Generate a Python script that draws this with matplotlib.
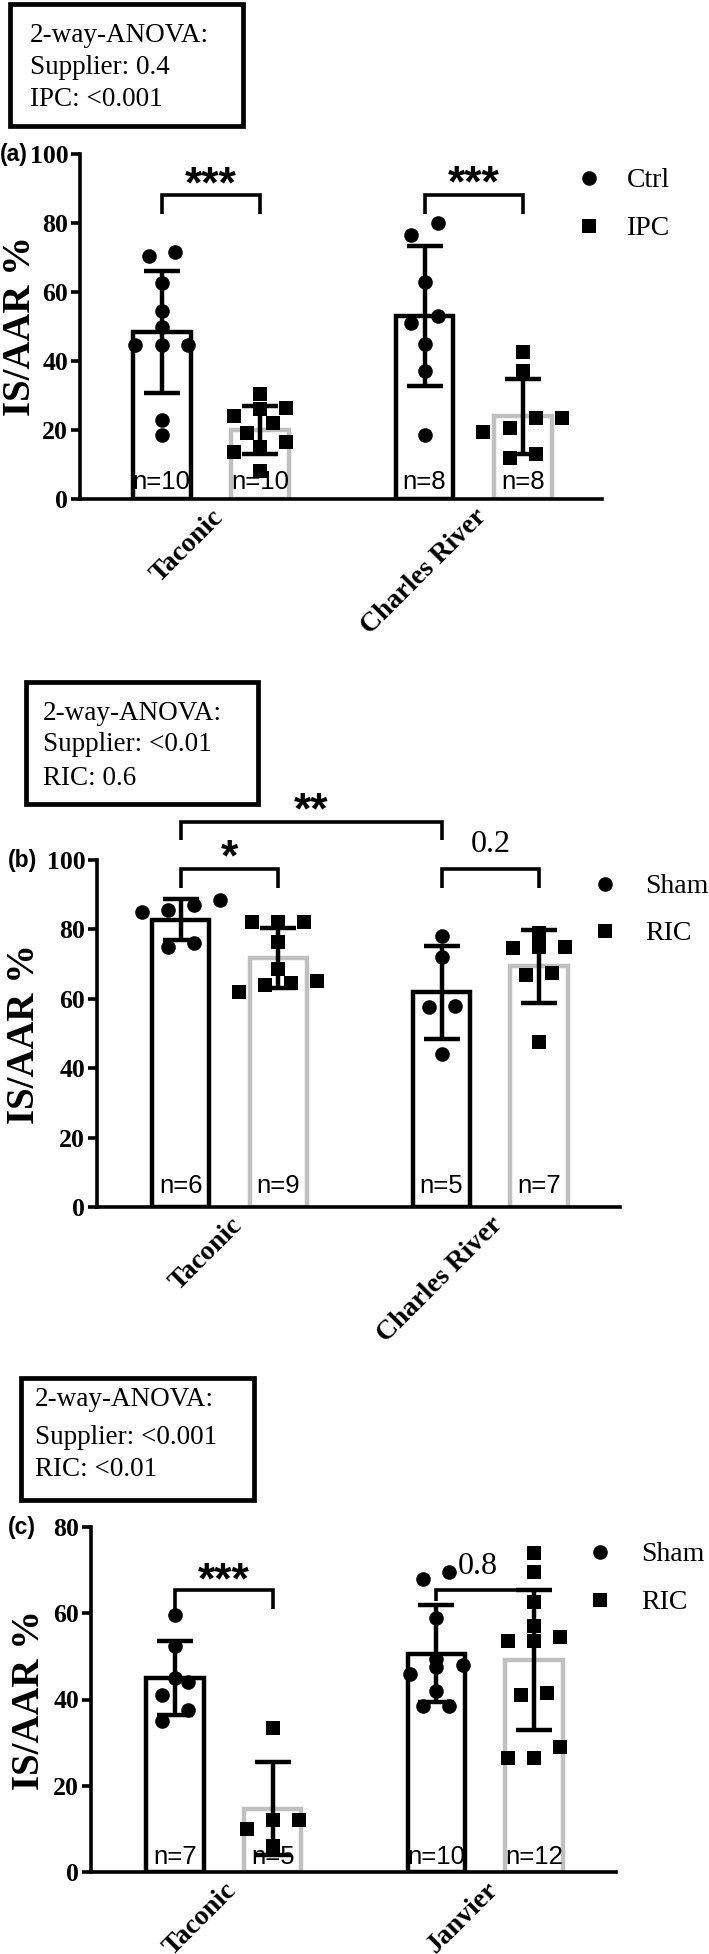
import numpy as np
import matplotlib.pyplot as plt
from matplotlib.lines import Line2D
from matplotlib.patches import Rectangle

W, H = 709, 1954
SERIF = 'Liberation Serif'
SANS = 'Liberation Sans'
GRAY = '#c0c0c0'

# panel (a)
a_groups = ['Taconic', 'Charles River']
a_series = ['Ctrl', 'IPC']
a_taconic_ctrl = [71.5, 70.5, 62.5, 54.5, 50, 44.5, 44.5, 44.5, 23, 18.5]
a_taconic_ipc = [30.5, 26.5, 26, 24, 22, 19, 16.5, 15, 13.5, 8]
a_charles_ctrl = [80, 76.5, 63, 53, 51, 45, 37, 18.5]
a_charles_ipc = [42.5, 37, 23.5, 23.5, 20.5, 19.5, 13, 12]
a_anova = ['2-way-ANOVA:', 'Supplier: 0.4', 'IPC: <0.001']
a_sig = ['***', '***']

# panel (b)
b_groups = ['Taconic', 'Charles River']
b_series = ['Sham', 'RIC']
b_taconic_sham = [88.5, 87, 85.5, 85, 76, 75]
b_taconic_ric = [82, 82, 82, 76.5, 68.5, 65, 64.5, 64, 62]
b_charles_sham = [78, 72, 58, 57.5, 44]
b_charles_ric = [79, 75, 75, 74.5, 67.5, 67, 47.5]
b_anova = ['2-way-ANOVA:', 'Supplier: <0.01', 'RIC: 0.6']
b_sig = ['*', '0.2']
b_sig_supplier = '**'

# panel (c)
c_groups = ['Taconic', 'Janvier']
c_series = ['Sham', 'RIC']
c_taconic_sham = [59.5, 52.5, 45, 44, 41, 37.5, 35]
c_taconic_ric = [33.5, 12, 12, 10, 6]
c_janvier_sham = [69.5, 68, 59, 49.5, 48, 47.5, 46, 42, 38.5, 38.5]
c_janvier_ric = [74, 69.5, 62.5, 57, 54.5, 53.5, 53.5, 41.5, 41, 29, 26.5, 26.5]
c_anova = ['2-way-ANOVA:', 'Supplier: <0.001', 'RIC: <0.01']
c_sig = ['***', '0.8']

OFF = 0.187   # bar offset from group centre
BW = 0.22     # bar width
MS = 10.5
LW = 3.2

fig = plt.figure(figsize=(W / 100, H / 100), dpi=100)


def make_axes(left, top, right, bottom):
    return fig.add_axes([left / W, 1 - bottom / H, (right - left) / W, (bottom - top) / H])


def row_offsets(vals, thr, step=0.1):
    # simple column scatter: values closer than thr share a row
    order = np.argsort(vals, kind='stable')
    offs = np.zeros(len(vals))
    i = 0
    while i < len(order):
        j = i
        while j + 1 < len(order) and vals[order[j + 1]] - vals[order[i]] < thr:
            j += 1
        n = j - i + 1
        for k in range(n):
            offs[order[i + k]] = (k - (n - 1) / 2) * step
        i = j + 1
    return offs


def put(ax, x, y, s, family, weight, size, center_frac):
    fs_px = size * 100 / 72
    ax.annotate(s, xy=(x, y), xytext=(0, -center_frac * fs_px), textcoords='offset pixels',
                ha='center', va='baseline', fontfamily=family, fontweight=weight,
                fontsize=size, annotation_clip=False, zorder=6)


def bracket(ax, x1, x2, y, d1, d2):
    ax.plot([x1, x1, x2, x2], [y - d1, y, y, y - d2], color='k', lw=2.6, clip_on=False,
            solid_joinstyle='miter', solid_capstyle='butt', zorder=5)


def draw_panel(ax, groups, data, ymax, xlim, n_px):
    ax.set_xlim(xlim)
    ax.set_ylim(0, ymax)
    ppy = ax.get_position().height * H / ymax
    thr = 14 / ppy
    markers = ['o', 's']
    edges = ['black', GRAY]
    for gi, pair in enumerate(data):
        for si, vals in enumerate(pair):
            vals = np.asarray(vals, float)
            xc = gi + (2 * si - 1) * OFF
            m = vals.mean()
            sd = vals.std(ddof=1)
            ax.bar(xc, m, width=BW, facecolor='white', edgecolor=edges[si], linewidth=LW, zorder=1)
            ax.plot(xc + row_offsets(vals, thr), vals, ls='none', marker=markers[si], ms=MS,
                    mfc='k', mec='k', mew=0, zorder=3, clip_on=False)
            ax.errorbar(xc, m, yerr=sd, fmt='none', ecolor='k', elinewidth=LW,
                        capsize=13, capthick=LW, zorder=4)
            ax.annotate(f'n={len(vals)}', xy=(xc, 0), xycoords=('data', 'axes fraction'),
                        xytext=(0, n_px - 9), textcoords='offset pixels', ha='center',
                        va='baseline', fontfamily=SANS, fontsize=18.5, zorder=5)
    for s in ['top', 'right']:
        ax.spines[s].set_visible(False)
    for s in ['left', 'bottom']:
        ax.spines[s].set_linewidth(2.6)
    ax.tick_params(axis='y', direction='out', length=6.5, width=2.6, pad=2)
    ax.tick_params(axis='x', length=0, pad=4)
    ax.set_xticks([0, 1], groups, rotation=45, ha='right', rotation_mode='anchor',
                  fontfamily=SERIF, fontweight='bold', fontsize=20)
    ticks = np.arange(0, ymax + 1, 20)
    ax.set_yticks(ticks, [str(int(t)) for t in ticks], fontfamily=SERIF,
                  fontweight='bold', fontsize=18.5)


def anova_box(x0, y0, x1, y1, lines, tx, baselines):
    fig.add_artist(Rectangle((x0 / W, 1 - y1 / H), (x1 - x0) / W, (y1 - y0) / H,
                             transform=fig.transFigure, fill=False, lw=3.4, ec='k'))
    for s, b in zip(lines, baselines):
        fig.text(tx / W, 1 - b / H, s, ha='left', va='baseline', fontfamily=SERIF, fontsize=19.5)


def legend(mx, ys, tx, labels):
    for mk, y, lab in zip(['o', 's'], ys, labels):
        fig.add_artist(Line2D([mx / W], [1 - y / H], transform=fig.transFigure, marker=mk,
                              ms=MS, color='k', ls='none', mew=0))
        fig.text(tx / W, 1 - (y + 0.331 * 27.8) / H, lab, ha='left', va='baseline',
                 fontfamily=SERIF, fontsize=20)


def side_labels(tag, tag_x, tick_y, ylab_x, ylab_y):
    fig.text(tag_x / W, 1 - (tick_y + 7) / H, tag, ha='left', va='baseline',
             fontfamily=SANS, fontweight='bold', fontsize=16.5)
    fig.text(ylab_x / W, 1 - ylab_y / H, 'IS/AAR %', rotation=90, ha='center', va='center',
             fontfamily=SERIF, fontweight='bold', fontsize=28)


# ---------------- (a)
ax = make_axes(80, 154, 602, 499)
draw_panel(ax, a_groups, [[a_taconic_ctrl, a_taconic_ipc], [a_charles_ctrl, a_charles_ipc]],
           100, (-0.498, 1.488), 19)
bracket(ax, -OFF, OFF, 88, 5.5, 5.5)
bracket(ax, 1 - OFF, 1 + OFF, 88, 5.5, 5.5)
put(ax, 0, 94.6, a_sig[0], SANS, 'bold', 32, 0.56)
put(ax, 1, 94.8, a_sig[1], SANS, 'bold', 32, 0.56)
anova_box(9.5, 3.5, 242.5, 125.5, a_anova, 30, [41.5, 74, 106.5])
legend(589, [177.5, 226], 627, a_series)
side_labels('(a)', 0, 154, 21, 326.5)

# ---------------- (b)
ax = make_axes(97, 860, 620, 1207)
draw_panel(ax, b_groups, [[b_taconic_sham, b_taconic_ric], [b_charles_sham, b_charles_ric]],
           100, (-0.508, 1.497), 23)
bracket(ax, -OFF, 1 - OFF, 111, 5.3, 5.3)
bracket(ax, -OFF, OFF, 97.4, 5.4, 5.4)
bracket(ax, 1 - OFF, 1 + OFF, 97.4, 5.4, 5.4)
put(ax, 0.5 - OFF, 117.6, b_sig_supplier, SANS, 'bold', 32, 0.56)
put(ax, 0, 104.2, b_sig[0], SANS, 'bold', 32, 0.56)
put(ax, 1, 105.5, b_sig[1], SERIF, 'normal', 23, 0.338)
anova_box(26.5, 681.5, 257.5, 803.5, b_anova, 43, [720, 751, 785])
legend(605, [884, 930.6], 645, b_series)
side_labels('(b)', 8, 860, 24, 1033.5)

# ---------------- (c)
ax = make_axes(91, 1527, 616, 1872)
draw_panel(ax, c_groups, [[c_taconic_sham, c_taconic_ric], [c_janvier_sham, c_janvier_ric]],
           80, (-0.508, 1.5), 17)
bracket(ax, -OFF, OFF, 65.5, 4.6, 4.6)
bracket(ax, 1 - OFF, 1 + OFF, 65.3, 2.5, 2.5)
put(ax, 0, 70.4, c_sig[0], SANS, 'bold', 32, 0.56)
put(ax, 0.97, 71.6, c_sig[1], SERIF, 'normal', 23, 0.338)
anova_box(20.5, 1377.5, 253.5, 1499.5, c_anova, 35, [1406.5, 1444, 1476.5])
legend(600, [1552, 1600], 641, c_series)
side_labels('(c)', 8, 1527, 30, 1699.5)

fig.savefig('out.png', dpi=100)
